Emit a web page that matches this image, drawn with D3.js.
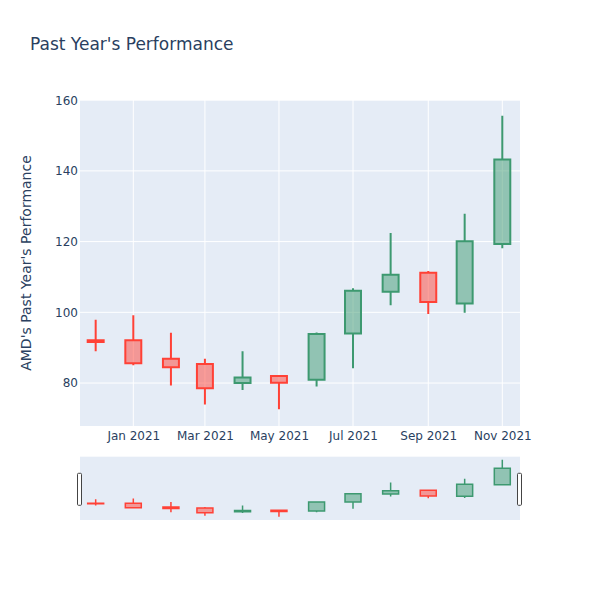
<!DOCTYPE html>
<html>
<head>
<meta charset="utf-8">
<script src="https://cdn.jsdelivr.net/npm/d3@7"></script>
<style>
  html, body { margin: 0; padding: 0; background: #fff; }
  svg { display: block; }
  text { font-family: "DejaVu Sans", verdana, arial, sans-serif; }
</style>
</head>
<body>
<svg id="chart" width="600" height="600"></svg>
<script>
// ---- data (monthly OHLC) ----
const dates = ["2020-12-01","2021-01-01","2021-02-01","2021-03-01","2021-04-01","2021-05-01",
               "2021-06-01","2021-07-01","2021-08-01","2021-09-01","2021-10-01","2021-11-01"];
const opens  = [92.1, 92.1, 86.9, 85.4, 80.0, 82.0, 80.9, 94.0, 105.8, 111.2, 102.5, 119.3];
const highs  = [97.9, 99.2, 94.2, 86.9, 89.0, 82.2, 94.3, 106.8, 122.4, 111.7, 127.9, 155.6];
const lows   = [89.0, 85.0, 79.3, 73.9, 78.0, 72.6, 79.0, 84.2, 102.0, 99.5, 99.9, 118.1];
const closes = [91.6, 85.6, 84.5, 78.5, 81.6, 80.1, 93.9, 106.1, 110.6, 102.9, 120.1, 143.2];
const yTicks = [80, 100, 120, 140, 160];
const xTickDates = ["2021-01-01","2021-03-01","2021-05-01","2021-07-01","2021-09-01","2021-11-01"];
const xRange = ["2020-11-18T02:00:00Z", "2021-11-15T14:00:00Z"];
const yRange = [67.85, 160.05];

const FONT = '"DejaVu Sans", verdana, arial, sans-serif';

const data = dates.map((d, i) => ({
  date: new Date(d + "T00:00:00Z"),
  open: opens[i], high: highs[i], low: lows[i], close: closes[i]
}));

const svg = d3.select("#chart");
const plot = { left: 80, right: 520, top: 100, bottom: 426 };
const slider = { top: 456.7, bottom: 520 };

const incColor = "#3D9970", decColor = "#FF4136";
const incFill = "rgba(61,153,112,0.5)", decFill = "rgba(255,65,54,0.5)";
const textColor = "#2a3f5f";

const x = d3.scaleUtc().domain(xRange.map(s => new Date(s))).range([plot.left, plot.right]);
const y = d3.scaleLinear().domain(yRange).range([plot.bottom, plot.top]);
const ys = d3.scaleLinear().domain(yRange).range([slider.bottom, slider.top]);

let minDiff = Infinity;
for (let i = 1; i < data.length; i++) minDiff = Math.min(minDiff, x(data[i].date) - x(data[i-1].date));
const boxW = minDiff * 0.47;

// title
svg.append("text")
  .attr("x", 30).attr("y", 50)
  .attr("fill", textColor)
  .style("font-size", "17px")
  .style("font-family", FONT)
  .text("Past Year's Performance");

// plot background
svg.append("rect")
  .attr("x", plot.left).attr("y", plot.top)
  .attr("width", plot.right - plot.left).attr("height", plot.bottom - plot.top)
  .attr("fill", "#E5ECF6");

// grid
const gGrid = svg.append("g");
gGrid.selectAll("line.yg").data(yTicks).join("line")
  .attr("x1", plot.left).attr("x2", plot.right)
  .attr("y1", d => y(d)).attr("y2", d => y(d))
  .attr("stroke", "#fff").attr("stroke-width", 1);
gGrid.selectAll("line.xg").data(xTickDates.map(s => new Date(s + "T00:00:00Z"))).join("line")
  .attr("y1", plot.top).attr("y2", plot.bottom)
  .attr("x1", d => x(d)).attr("x2", d => x(d))
  .attr("stroke", "#fff").attr("stroke-width", 1);

// axes
const yAxis = d3.axisLeft(y).tickValues(yTicks).tickSize(0).tickPadding(2).tickFormat(d3.format("d"));
const gy = svg.append("g").attr("transform", `translate(${plot.left},0)`).call(yAxis);
gy.select(".domain").remove();
gy.selectAll("text").attr("fill", textColor).style("font-size", "12px").style("font-family", FONT);

const fmt = d3.utcFormat("%b %Y");
const xAxis = d3.axisBottom(x).tickValues(xTickDates.map(s => new Date(s + "T00:00:00Z")))
  .tickSize(0).tickPadding(5).tickFormat(fmt);
const gx = svg.append("g").attr("transform", `translate(0,${plot.bottom})`).call(xAxis);
gx.select(".domain").remove();
gx.selectAll("text").attr("fill", textColor).style("font-size", "12px").style("font-family", FONT);

// y title
svg.append("text")
  .attr("transform", `translate(31,${(plot.top + plot.bottom) / 2}) rotate(-90)`)
  .attr("text-anchor", "middle")
  .attr("fill", textColor)
  .style("font-size", "14px")
  .style("font-family", FONT)
  .text("AMD's Past Year's Performance");

function candlePath(d, xs, yscale, w) {
  const cx = xs(d.date), x0 = cx - w / 2, x1 = cx + w / 2;
  const yo = yscale(d.open), yc = yscale(d.close), yh = yscale(d.high), yl = yscale(d.low);
  const top = Math.min(yo, yc), bot = Math.max(yo, yc);
  return `M${x0},${top}H${x1}V${bot}H${x0}Z` +
         `M${cx},${top}V${yh}M${cx},${bot}V${yl}`;
}

// main candles
svg.append("g").selectAll("path").data(data).join("path")
  .attr("d", d => candlePath(d, x, y, boxW))
  .attr("fill", d => d.close >= d.open ? incFill : decFill)
  .attr("stroke", d => d.close >= d.open ? incColor : decColor)
  .attr("stroke-width", 2);

// range slider
svg.append("rect")
  .attr("x", plot.left).attr("y", slider.top)
  .attr("width", plot.right - plot.left).attr("height", slider.bottom - slider.top)
  .attr("fill", "#E5ECF6");
svg.append("g").selectAll("path").data(data).join("path")
  .attr("d", d => candlePath(d, x, ys, boxW))
  .attr("fill", d => d.close >= d.open ? incFill : decFill)
  .attr("stroke", d => d.close >= d.open ? incColor : decColor)
  .attr("stroke-width", 1.5);

// handles
const hY = 473.3, hH = 32;
[plot.left, plot.right].forEach(hx => {
  svg.append("rect")
    .attr("x", hx - 2.5).attr("y", hY)
    .attr("width", 4).attr("height", hH)
    .attr("rx", 1).attr("ry", 1)
    .attr("fill", "#fff")
    .attr("stroke", "#444").attr("stroke-width", 1);
});
</script>
</body>
</html>
